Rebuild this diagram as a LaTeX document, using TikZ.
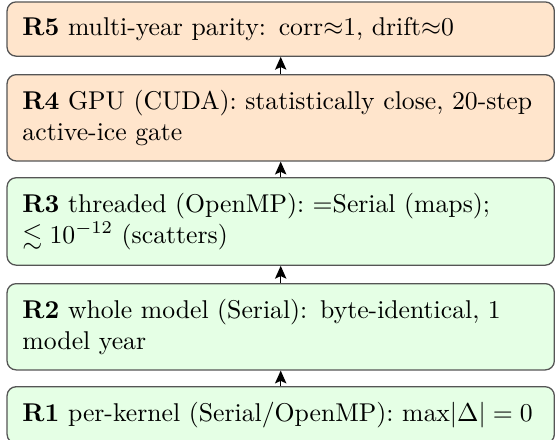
\documentclass[tikz,border=0pt]{standalone}
\usepackage{amsmath,amssymb}
\usetikzlibrary{arrows.meta}
\definecolor{boxline}{RGB}{85,85,85}
\tikzset{
  rbox/.style={draw=boxline, line width=0.5pt, rounded corners=3.5pt, anchor=north,
    text width=200.9pt, inner sep=6pt, align=left, font=\normalsize},
  warmbox/.style={rbox, fill=orange!20},
  coolbox/.style={rbox, fill=green!10},
  uparrow/.style={-{Stealth[length=5pt,width=4.4pt,inset=1pt]}, line width=0.6pt, black}
}
\begin{document}
\begin{tikzpicture}[x=1pt,y=1pt]
\useasboundingbox (0,0) rectangle (216.3,-170.8);
\node[warmbox] (r5) at (109.2,-0.5) {\textbf{R5} multi-year parity: corr$\approx$1, drift$\approx$0};
\node[warmbox] (r4) at (109.2,-28.8) {\textbf{R4} GPU (CUDA): statistically close, 20-step active-ice gate};
\node[coolbox] (r3) at (109.2,-68.9) {\textbf{R3} threaded (OpenMP): =Serial (maps); $\lesssim 10^{-12}$ (scatters)};
\node[coolbox] (r2) at (109.2,-110.1) {\textbf{R2} whole model (Serial): byte-identical, 1 model year};
\node[coolbox] (r1) at (109.2,-150.2) {\textbf{R1} per-kernel (Serial/OpenMP): $\mathrm{max}|\Delta| = 0$};
\draw[uparrow] (r1.north) -- (r2.south);
\draw[uparrow] (r2.north) -- (r3.south);
\draw[uparrow] (r3.north) -- (r4.south);
\draw[uparrow] (r4.north) -- (r5.south);
\end{tikzpicture}
\end{document}
